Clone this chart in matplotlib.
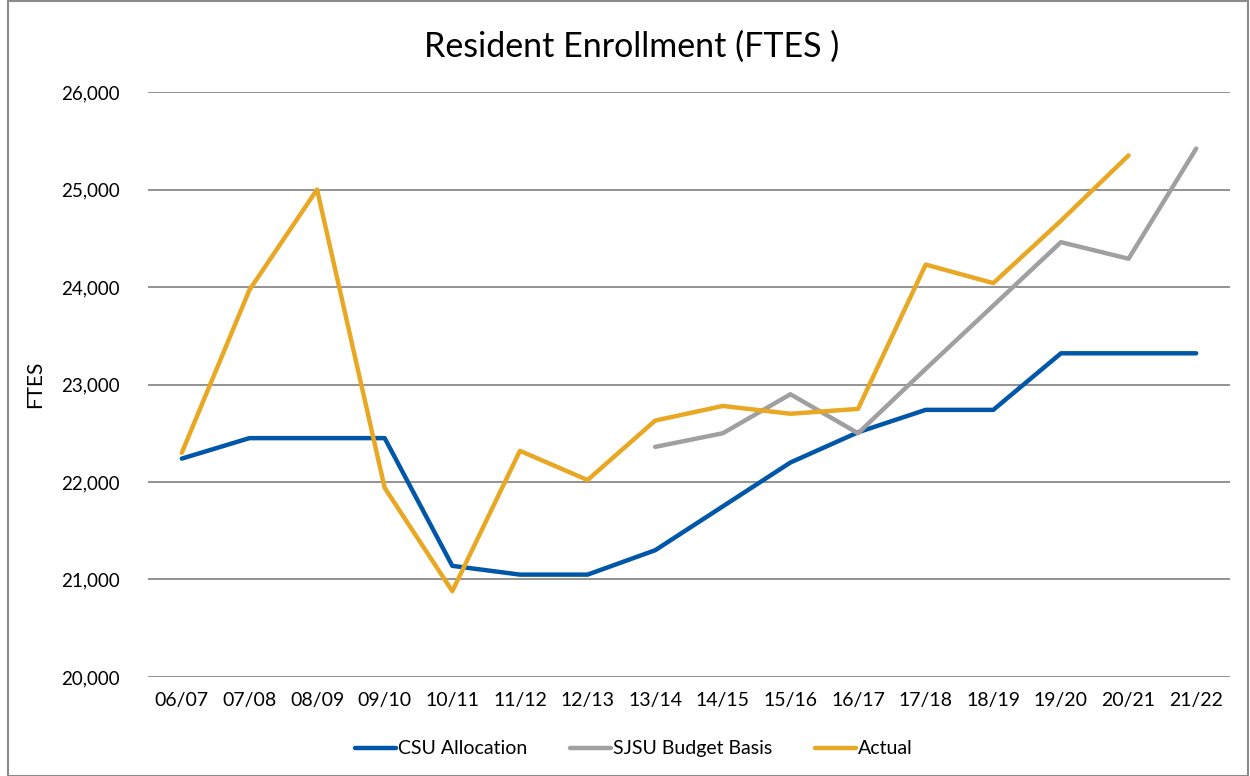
import matplotlib.pyplot as plt
from matplotlib.patches import Rectangle
import numpy as np

years = ["06/07", "07/08", "08/09", "09/10", "10/11", "11/12", "12/13", "13/14",
         "14/15", "15/16", "16/17", "17/18", "18/19", "19/20", "20/21", "21/22"]
csu = [22240, 22450, 22450, 22450, 21140, 21050, 21050, 21300,
       21750, 22200, 22510, 22740, 22740, 23320, 23320, 23320]
sjsu = [np.nan] * 7 + [22360, 22500, 22900, 22500, 23160, 23810, 24460, 24290, 25420]
actual = [22300, 23970, 25000, 21940, 20880, 22320, 22020, 22630,
          22780, 22700, 22750, 24230, 24040, 24680, 25350, np.nan]

plt.rcParams['font.family'] = ['Lato', 'DejaVu Sans']

fig = plt.figure(figsize=(12.5, 7.76), dpi=100)
fig.patches.append(Rectangle((0.006, 0.0), 0.992, 0.999, transform=fig.transFigure,
                             fill=False, edgecolor='#8a8a8a', linewidth=1.5))
ax = fig.add_axes([0.1184, 0.1276, 0.8656, 0.7538])

x = np.arange(len(years))
ax.plot(x, csu, color='#0057A8', linewidth=3.2, label="CSU Allocation", solid_capstyle='round')
ax.plot(x, sjsu, color='#A0A0A0', linewidth=3.2, label="SJSU Budget Basis", solid_capstyle='round')
ax.plot(x, actual, color='#E8A823', linewidth=3.2, label="Actual", solid_capstyle='round')

ax.set_xlim(-0.5, len(years) - 0.5)
ax.set_ylim(20000, 26000)
ax.set_yticks(range(20000, 26001, 1000))
ax.set_yticklabels([f"{v:,}" for v in range(20000, 26001, 1000)], fontsize=13.5)
ax.set_xticks(x)
ax.set_xticklabels(years, fontsize=14)
ax.tick_params(length=0, pad=11)
ax.tick_params(axis='y', pad=20)
ax.grid(axis='y', color='#8a8a8a', linewidth=1.3)
ax.set_axisbelow(True)
for s in ax.spines.values():
    s.set_visible(False)

ax.set_ylabel("FTES", fontsize=15, labelpad=12)
fig.text(0.505, 0.94, "Resident Enrollment (FTES )", fontsize=24.5, ha='center', va='center')

fig.legend(loc='center', bbox_to_anchor=(0.507, 0.035), ncol=3, frameon=False,
           fontsize=14, handlelength=2.1, handletextpad=0.1, columnspacing=2.2)

plt.savefig("out.png", dpi=100)
